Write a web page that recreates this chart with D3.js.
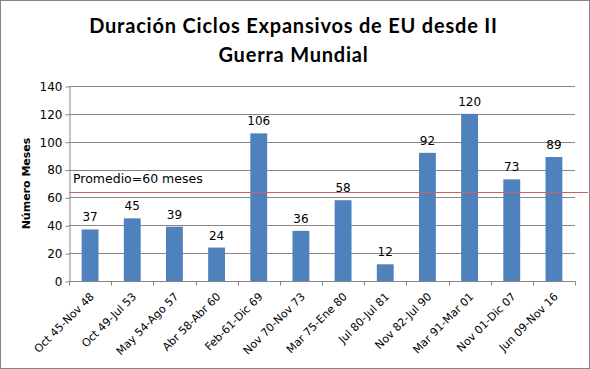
<!DOCTYPE html>
<html>
<head>
<meta charset="utf-8" />
<title>Duración Ciclos Expansivos de EU</title>
<script src="https://d3js.org/d3.v7.min.js"></script>
<style>
    body { margin: 0; background: white; }
    text { font-family: "DejaVu Sans", Verdana, sans-serif; fill: #000; }
    .title { font-family: Lato, "Open Sans", sans-serif; font-weight: bold; font-size: 20px; letter-spacing: 0.8px; }
</style>
</head>
<body>
<svg id="chart" width="590" height="369"></svg>
<script>
    // data
    let periods = ["Oct 45-Nov 48", "Oct 49-Jul 53", "May 54-Ago 57", "Abr 58-Abr 60", "Feb-61-Dic 69",
        "Nov 70-Nov 73", "Mar 75-Ene 80", "Jul 80-Jul 81", "Nov 82-Jul 90", "Mar 91-Mar 01",
        "Nov 01-Dic 07", "Jun 09-Nov 16"];
    let months = [37, 45, 39, 24, 106, 36, 58, 12, 92, 120, 73, 89];
    let yTicks = [0, 20, 40, 60, 80, 100, 120, 140];
    let avgLine = 64;
    let avgLabel = "Promedio=60 meses";
    let titleLines = ["Duración Ciclos Expansivos de EU desde II", "Guerra Mundial"];

    let svg = d3.select("#chart");
    let margin = { left: 69, right: 15, top: 86, bottom: 88 };
    let W = 590, H = 369;

    // outer border
    svg.append("rect").attr("x", 0.5).attr("y", 0.5).attr("width", W - 1).attr("height", H - 1)
        .attr("fill", "white").attr("stroke", "#868686");

    let x = d3.scaleBand().domain(periods).range([margin.left, W - margin.right]).paddingInner(0.6).paddingOuter(0.3);
    let y = d3.scaleLinear().domain([0, 140]).range([H - margin.bottom, margin.top]);

    // gridlines
    svg.append("g").selectAll("line").data(yTicks.filter(d => d > 0)).enter().append("line")
        .attr("x1", margin.left).attr("x2", W - margin.right)
        .attr("y1", d => Math.round(y(d)) + 0.5).attr("y2", d => Math.round(y(d)) + 0.5)
        .attr("stroke", "#868686");

    // y axis
    let yAxis = svg.append("g").attr("transform", "translate(" + (margin.left + 0.5) + ",0.5)")
        .call(d3.axisLeft(y).tickValues(yTicks).tickSize(4).tickSizeOuter(0));
    yAxis.select(".domain").attr("stroke", "#868686");
    yAxis.selectAll(".tick line").attr("stroke", "#868686");
    yAxis.selectAll(".tick text").attr("font-size", 12).attr("font-family", "DejaVu Sans").attr("x", -7);

    // x axis with ticks at category boundaries
    let y0 = Math.round(y(0)) + 0.5;
    svg.append("line").attr("x1", margin.left).attr("x2", W - margin.right)
        .attr("y1", y0).attr("y2", y0).attr("stroke", "#868686");
    let bounds = d3.range(periods.length + 1).map(i => margin.left + i * (W - margin.left - margin.right) / periods.length);
    svg.append("g").selectAll("line").data(bounds).enter().append("line")
        .attr("x1", d => Math.round(d) + 0.5).attr("x2", d => Math.round(d) + 0.5)
        .attr("y1", y0).attr("y2", y0 + 4).attr("stroke", "#868686");

    // bars
    svg.append("g").selectAll("rect").data(months).enter().append("rect")
        .attr("x", (d, i) => x(periods[i]))
        .attr("width", x.bandwidth())
        .attr("y", d => y(d))
        .attr("height", d => y(0) - y(d))
        .attr("fill", "#4f81bd");

    // value labels
    svg.append("g").selectAll("text").data(months).enter().append("text")
        .attr("x", (d, i) => x(periods[i]) + x.bandwidth() / 2)
        .attr("y", d => y(d) - 8)
        .attr("text-anchor", "middle").attr("font-size", 12)
        .text(d => d);

    // category labels
    svg.append("g").selectAll("text").data(periods).enter().append("text")
        .attr("transform", d => "translate(" + (x(d) + x.bandwidth() / 2 + 2) + "," + (y0 + 13) + ") rotate(-45)")
        .attr("text-anchor", "end").attr("dy", "0.35em").attr("font-size", 11)
        .text(d => d);

    // average line
    svg.append("line").attr("x1", margin.left).attr("x2", W - 2)
        .attr("y1", Math.round(y(avgLine)) + 0.5).attr("y2", Math.round(y(avgLine)) + 0.5)
        .attr("stroke", "#d06060").attr("stroke-width", 1);
    svg.append("text").attr("x", 73).attr("y", y(avgLine) - 9)
        .attr("font-size", 12.5).text(avgLabel);

    // y title
    svg.append("text").attr("transform", "translate(30," + y(70) + ") rotate(-90)")
        .attr("text-anchor", "middle").attr("font-size", 11).attr("font-weight", "bold")
        .text("Número Meses");

    // chart title
    svg.append("g").selectAll("text").data(titleLines).enter().append("text")
        .attr("class", "title")
        .attr("x", 293.5).attr("y", (d, i) => 33 + i * 29)
        .attr("text-anchor", "middle")
        .text(d => d);
</script>
</body>
</html>
